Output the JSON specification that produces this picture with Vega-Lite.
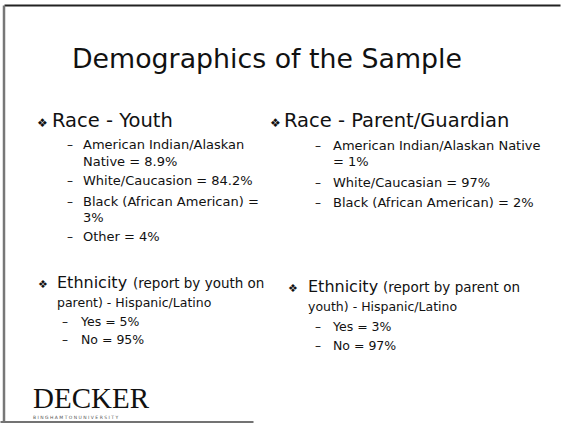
{
  "$schema": "https://vega.github.io/schema/vega-lite/v6.json",
  "width": 562,
  "height": 424,
  "autosize": "none",
  "padding": 0,
  "background": "white",
  "config": {"view": {"stroke": null}, "text": {"font": "DejaVu Sans", "color": "#111", "baseline": "alphabetic", "align": "left"}},
  "data": {"values": [
    {"kind": "title", "side": "center", "line": -3.0, "text": "Demographics of the Sample"},
    {"kind": "race", "side": "left", "line": 0, "text": "Race - Youth"},
    {"kind": "race", "side": "right", "line": 0, "text": "Race - Parent/Guardian"},
    {"kind": "item", "side": "left", "line": 1.12, "dash": true, "text": "American Indian/Alaskan"},
    {"kind": "item", "side": "left", "line": 2.0, "dash": false, "text": "Native = 8.9%"},
    {"kind": "item", "side": "left", "line": 3.0, "dash": true, "text": "White/Caucasion = 84.2%"},
    {"kind": "item", "side": "left", "line": 4.05, "dash": true, "text": "Black (African American) ="},
    {"kind": "item", "side": "left", "line": 4.87, "dash": false, "text": "3%"},
    {"kind": "item", "side": "left", "line": 5.85, "dash": true, "text": "Other = 4%"},
    {"kind": "item", "side": "right", "line": 1.2, "dash": true, "text": "American Indian/Alaskan Native"},
    {"kind": "item", "side": "right", "line": 2.0, "dash": false, "text": "= 1%"},
    {"kind": "item", "side": "right", "line": 3.07, "dash": true, "text": "White/Caucasian = 97%"},
    {"kind": "item", "side": "right", "line": 4.1, "dash": true, "text": "Black (African American) = 2%"},
    {"kind": "eth", "side": "left", "line": 8.25, "text": "Ethnicity", "note": "(report by youth on"},
    {"kind": "eth", "side": "right", "line": 8.45, "text": "Ethnicity", "note": "(report by parent on"},
    {"kind": "ethcont", "side": "left", "line": 9.23, "text": "parent) - Hispanic/Latino"},
    {"kind": "ethcont", "side": "right", "line": 9.44, "text": "youth) - Hispanic/Latino"},
    {"kind": "ethitem", "side": "left", "line": 10.2, "text": "Yes = 5%"},
    {"kind": "ethitem", "side": "left", "line": 11.13, "text": "No = 95%"},
    {"kind": "ethitem", "side": "right", "line": 10.46, "text": "Yes = 3%"},
    {"kind": "ethitem", "side": "right", "line": 11.44, "text": "No = 97%"},
    {"kind": "logo", "side": "left", "line": 14.41, "text": "DECKER"},
    {"kind": "logosub", "side": "left", "line": 14.97, "text": "B I N G H A M T O N   U N I V E R S I T Y"}
  ]},
  "resolve": {"scale": {"x": "independent"}, "axis": {"x": "independent"}},
  "layer": [
    {
      "transform": [{"filter": "datum.kind == 'title'"}],
      "mark": {"type": "text", "fontSize": 26.8, "align": "center", "dx": -15},
      "encoding": {
        "x": {"field": "side", "type": "nominal", "scale": {"type": "point", "domain": ["center"], "range": [4, 560], "padding": 0}, "axis": {"orient": "top", "offset": -5, "domain": true, "domainColor": "#222", "domainWidth": 2, "labels": false, "ticks": false, "grid": false, "title": null}},
        "y": {"field": "line", "type": "quantitative", "scale": {"domain": [-6.256, 15.077], "range": [5, 421], "zero": false, "nice": false}, "axis": {"orient": "left", "offset": -3.5, "domain": true, "domainColor": "#777", "domainWidth": 2.5, "labels": false, "ticks": false, "grid": false, "title": null}},
        "text": {"field": "text"}
      }
    },
    {
      "transform": [{"filter": "datum.kind == 'race'"}],
      "mark": {"type": "text", "fontSize": 12},
      "encoding": {
        "x": {"field": "side", "type": "nominal", "scale": {"type": "point", "domain": ["left", "right"], "range": [37, 270], "padding": 0}, "axis": null},
        "y": {"field": "line", "type": "quantitative", "title": null},
        "text": {"value": "❖"}
      }
    },
    {
      "transform": [{"filter": "datum.kind == 'race'"}],
      "mark": {"type": "text", "fontSize": 19.5},
      "encoding": {
        "x": {"field": "side", "type": "nominal", "scale": {"type": "point", "domain": ["left", "right"], "range": [52, 284], "padding": 0}, "axis": null},
        "y": {"field": "line", "type": "quantitative", "title": null},
        "text": {"field": "text"}
      }
    },
    {
      "transform": [{"filter": "datum.kind == 'item' && datum.dash"}],
      "mark": {"type": "text", "fontSize": 12},
      "encoding": {
        "x": {"field": "side", "type": "nominal", "scale": {"type": "point", "domain": ["left", "right"], "range": [67, 315], "padding": 0}, "axis": null},
        "y": {"field": "line", "type": "quantitative", "title": null},
        "text": {"value": "–"}
      }
    },
    {
      "transform": [{"filter": "datum.kind == 'item'"}],
      "mark": {"type": "text", "fontSize": 13},
      "encoding": {
        "x": {"field": "side", "type": "nominal", "scale": {"type": "point", "domain": ["left", "right"], "range": [83, 333], "padding": 0}, "axis": null},
        "y": {"field": "line", "type": "quantitative", "title": null},
        "text": {"field": "text"}
      }
    },
    {
      "transform": [{"filter": "datum.kind == 'eth'"}],
      "mark": {"type": "text", "fontSize": 11},
      "encoding": {
        "x": {"field": "side", "type": "nominal", "scale": {"type": "point", "domain": ["left", "right"], "range": [38, 288], "padding": 0}, "axis": null},
        "y": {"field": "line", "type": "quantitative", "title": null},
        "text": {"value": "❖"}
      }
    },
    {
      "transform": [{"filter": "datum.kind == 'eth'"}],
      "mark": {"type": "text", "fontSize": 16},
      "encoding": {
        "x": {"field": "side", "type": "nominal", "scale": {"type": "point", "domain": ["left", "right"], "range": [57, 308], "padding": 0}, "axis": null},
        "y": {"field": "line", "type": "quantitative", "title": null},
        "text": {"field": "text"}
      }
    },
    {
      "transform": [{"filter": "datum.kind == 'eth'"}],
      "mark": {"type": "text", "fontSize": 13.5},
      "encoding": {
        "x": {"field": "side", "type": "nominal", "scale": {"type": "point", "domain": ["left", "right"], "range": [133, 383], "padding": 0}, "axis": null},
        "y": {"field": "line", "type": "quantitative", "title": null},
        "text": {"field": "note"}
      }
    },
    {
      "transform": [{"filter": "datum.kind == 'ethcont'"}],
      "mark": {"type": "text", "fontSize": 12.5},
      "encoding": {
        "x": {"field": "side", "type": "nominal", "scale": {"type": "point", "domain": ["left", "right"], "range": [57, 308], "padding": 0}, "axis": null},
        "y": {"field": "line", "type": "quantitative", "title": null},
        "text": {"field": "text"}
      }
    },
    {
      "transform": [{"filter": "datum.kind == 'ethitem'"}],
      "mark": {"type": "text", "fontSize": 12},
      "encoding": {
        "x": {"field": "side", "type": "nominal", "scale": {"type": "point", "domain": ["left", "right"], "range": [62, 315], "padding": 0}, "axis": null},
        "y": {"field": "line", "type": "quantitative", "title": null},
        "text": {"value": "–"}
      }
    },
    {
      "transform": [{"filter": "datum.kind == 'ethitem'"}],
      "mark": {"type": "text", "fontSize": 12.5},
      "encoding": {
        "x": {"field": "side", "type": "nominal", "scale": {"type": "point", "domain": ["left", "right"], "range": [81, 333], "padding": 0}, "axis": null},
        "y": {"field": "line", "type": "quantitative", "title": null},
        "text": {"field": "text"}
      }
    },
    {
      "transform": [{"filter": "datum.kind == 'logo'"}],
      "mark": {"type": "text", "fontSize": 29, "font": "Liberation Serif", "dx": 33},
      "encoding": {
        "x": {"field": "side", "type": "nominal", "scale": {"type": "point", "domain": ["left"], "range": [0, 253], "padding": 0, "align": 0}, "axis": {"orient": "bottom", "offset": -2.5, "domain": true, "domainColor": "#444", "domainWidth": 1.5, "labels": false, "ticks": false, "grid": false, "title": null}},
        "y": {"field": "line", "type": "quantitative", "title": null},
        "text": {"field": "text"}
      }
    },
    {
      "transform": [{"filter": "datum.kind == 'logosub'"}],
      "mark": {"type": "text", "fontSize": 4.5, "color": "#555"},
      "encoding": {
        "x": {"field": "side", "type": "nominal", "scale": {"type": "point", "domain": ["left"], "range": [33, 33], "padding": 0}, "axis": null},
        "y": {"field": "line", "type": "quantitative", "title": null},
        "text": {"field": "text"}
      }
    }
  ]
}
